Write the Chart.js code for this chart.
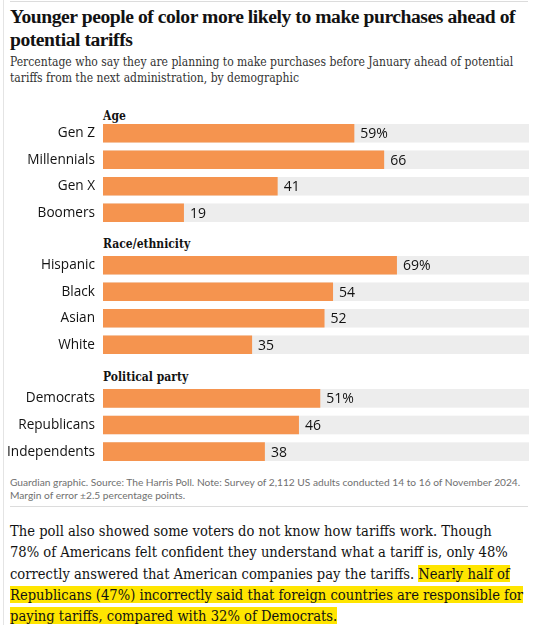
<!DOCTYPE html>
<html>
<head>
<meta charset="utf-8">
<script src="https://cdn.jsdelivr.net/npm/chart.js@4"></script>
<style>
body{margin:0;background:#fff;width:559px;height:625px;overflow:hidden;position:relative;}
.frame{position:absolute;left:3px;top:0;width:1px;height:625px;background:#e4e4e4;}
.toprule{position:absolute;left:10px;top:1px;width:518px;height:1px;background:#dcdcdc;}
h1{position:absolute;left:10px;top:5px;margin:0;white-space:nowrap;font-family:"Liberation Serif",serif;font-weight:bold;font-size:19.6px;line-height:23px;color:#121212;letter-spacing:-0.45px;}
.sub{position:absolute;left:10px;top:54px;margin:0;white-space:nowrap;font-family:"DejaVu Serif Condensed","DejaVu Serif",serif;font-size:12px;line-height:16px;color:#333;}
.head{position:absolute;left:103px;font-family:"DejaVu Serif Condensed","DejaVu Serif",serif;font-weight:bold;font-size:12px;color:#121212;}
canvas{position:absolute;left:0;}
.foot{position:absolute;left:10px;top:476px;white-space:nowrap;font-family:Lato,sans-serif;font-size:10.2px;line-height:13px;color:#707070;}
.rule{position:absolute;left:10px;top:506px;width:518px;height:1px;background:#dcdcdc;}
.body{position:absolute;left:10px;top:520px;white-space:nowrap;font-family:"DejaVu Serif Condensed","DejaVu Serif",serif;font-size:14.6px;line-height:21.3px;color:#121212;}
.hl{background:#ffe500;}
</style>
</head>
<body>
<div class="frame"></div>
<div class="toprule"></div>
<h1>Younger people of color more likely to make purchases ahead of<br>potential tariffs</h1>
<div class="sub">Percentage who say they are planning to make purchases before January ahead of potential<br>tariffs from the next administration, by demographic</div>

<div class="head" style="top:109px">Age</div>
<canvas id="ageChart" width="529" height="106" style="top:120px"></canvas>

<div class="head" style="top:237px">Race/ethnicity</div>
<canvas id="raceChart" width="529" height="106" style="top:252px"></canvas>

<div class="head" style="top:370px">Political party</div>
<canvas id="partyChart" width="529" height="80" style="top:385px"></canvas>

<div class="foot">Guardian graphic. Source: The Harris Poll. Note: Survey of 2,112 US adults conducted 14 to 16 of November 2024.<br>Margin of error ±2.5 percentage points.</div>
<div class="rule"></div>
<div class="body">The poll also showed some voters do not know how tariffs work. Though<br>78% of Americans felt confident they understand what a tariff is, only 48%<br>correctly answered that American companies pay the tariffs. <span class="hl">Nearly half of<br>Republicans (47%) incorrectly said that foreign countries are responsible for<br>paying tariffs, compared with 32% of Democrats.</span></div>

<script>
const ageLabels = ["Gen Z","Millennials","Gen X","Boomers"];
const ageValues = [59,66,41,19];

const raceLabels = ["Hispanic","Black","Asian","White"];
const raceValues = [69,54,52,35];

const partyLabels = ["Democrats","Republicans","Independents"];
const partyValues = [51,46,38];

const axisMax = 100;

// grey track behind each bar + value label after it
const trackPlugin = {
id:"trackPlugin",
beforeDatasetsDraw(chart){
const {ctx, scales:{x}} = chart;
const bars = chart.getDatasetMeta(0).data;
ctx.save();
ctx.fillStyle = "#ededed";
const x0 = x.getPixelForValue(0), x1 = x.getPixelForValue(axisMax);
bars.forEach(b => {
ctx.fillRect(x0, b.y - b.height/2, x1 - x0, b.height);
});
ctx.restore();
},
afterDatasetsDraw(chart){
const {ctx} = chart;
const vals = chart.data.datasets[0].data;
const bars = chart.getDatasetMeta(0).data;
ctx.save();
ctx.font = "14px 'Open Sans'";
ctx.fillStyle = "#121212";
ctx.textBaseline = "middle";
bars.forEach((b,i) => {
ctx.fillText(vals[i] + (i === 0 ? "%" : ""), b.x + 6, b.y + 1);
});
ctx.restore();
}
};

function makeChart(id, labels, values){
return new Chart(document.getElementById(id),{
type:"bar",
data:{
labels:labels,
datasets:[{
data:values,
backgroundColor:"#f5944f",
borderWidth:0,
barPercentage:0.7,
categoryPercentage:1
}]
},
options:{
indexAxis:"y",
responsive:false,
animation:false,
layout:{padding:0},
plugins:{legend:{display:false},tooltip:{enabled:false}},
scales:{
x:{display:false,min:0,max:axisMax},
y:{
grid:{display:false,drawTicks:false},
border:{display:false},
ticks:{color:"#121212",font:{family:"Open Sans",size:13.6},padding:8},
afterFit(scale){
scale.width = 103;
scale.paddingTop = 0;
scale.paddingBottom = 0;
}
}
}
},
plugins:[trackPlugin]
});
}

makeChart("ageChart", ageLabels, ageValues);
makeChart("raceChart", raceLabels, raceValues);
makeChart("partyChart", partyLabels, partyValues);
</script>
</body>
</html>
